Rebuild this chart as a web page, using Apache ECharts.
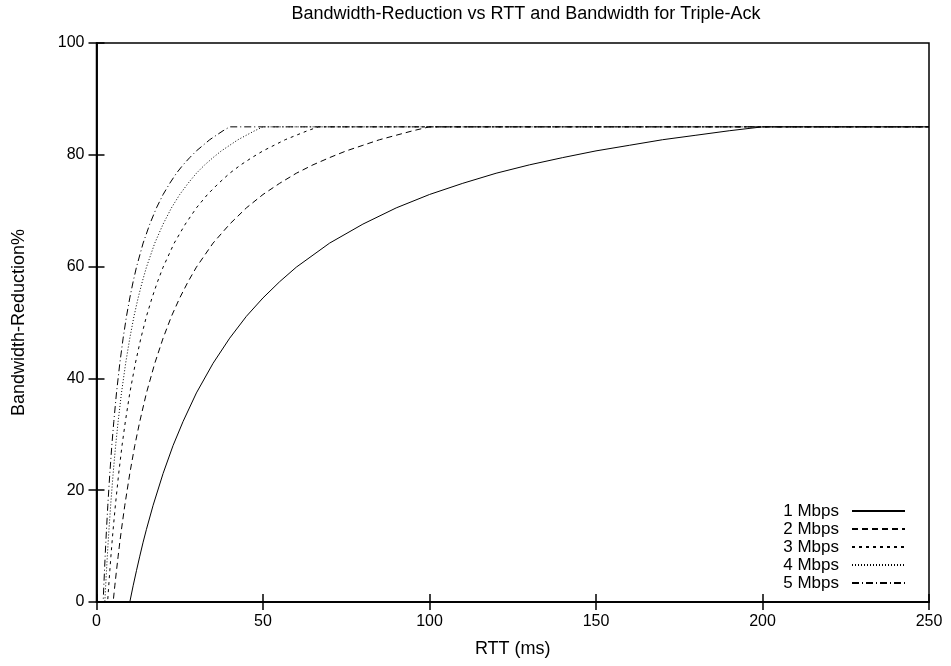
<!DOCTYPE html>
<html>
<head>
<meta charset="utf-8">
<title>Bandwidth-Reduction vs RTT</title>
<script src="https://cdn.jsdelivr.net/npm/echarts@6/dist/echarts.min.js"></script>
<style>
  html, body { margin: 0; padding: 0; background: #fff; }
  #chart { width: 951px; height: 666px; }
</style>
</head>
<body>
<div id="chart"></div>
<script>
// RTT (ms) sample points and bandwidth reduction (%) for each link speed
const rtt1 = [0, 10, 11, 12, 13, 14, 15, 17, 20, 23, 26, 30, 35, 40, 45, 50, 55, 60, 70, 80, 90, 100, 110, 120, 130, 140, 150, 160, 170, 180, 190, 200, 250];
const red1 = [0, 0, 2.9, 5.6, 8.2, 10.7, 13.0, 17.3, 23.0, 28.0, 32.3, 37.4, 42.7, 47.2, 51.1, 54.4, 57.3, 59.9, 64.2, 67.6, 70.5, 72.9, 74.9, 76.7, 78.2, 79.5, 80.7, 81.7, 82.7, 83.5, 84.3, 85, 85];

const rtt2 = [0, 5, 5.5, 6, 6.5, 7, 7.5, 8.5, 10, 11.5, 13, 15, 17.5, 20, 22.5, 25, 27.5, 30, 35, 40, 45, 50, 55, 60, 65, 70, 75, 80, 85, 90, 95, 100, 250];
const red2 = [0, 0, 2.9, 5.6, 8.2, 10.7, 13.0, 17.3, 23.0, 28.0, 32.3, 37.4, 42.7, 47.2, 51.1, 54.4, 57.3, 59.9, 64.2, 67.6, 70.5, 72.9, 74.9, 76.7, 78.2, 79.5, 80.7, 81.7, 82.7, 83.5, 84.3, 85, 85];

const rtt3 = [0, 3.33, 3.67, 4, 4.33, 4.67, 5, 5.67, 6.67, 7.67, 8.67, 10, 11.67, 13.33, 15, 16.67, 18.33, 20, 23.33, 26.67, 30, 33.33, 36.67, 40, 43.33, 46.67, 50, 53.33, 56.67, 60, 63.33, 66.67, 250];
const red3 = [0, 0, 2.9, 5.6, 8.2, 10.7, 13.0, 17.3, 23.0, 28.0, 32.3, 37.4, 42.7, 47.2, 51.1, 54.4, 57.3, 59.9, 64.2, 67.6, 70.5, 72.9, 74.9, 76.7, 78.2, 79.5, 80.7, 81.7, 82.7, 83.5, 84.3, 85, 85];

const rtt4 = [0, 2.5, 2.75, 3, 3.25, 3.5, 3.75, 4.25, 5, 5.75, 6.5, 7.5, 8.75, 10, 11.25, 12.5, 13.75, 15, 17.5, 20, 22.5, 25, 27.5, 30, 32.5, 35, 37.5, 40, 42.5, 45, 47.5, 50, 250];
const red4 = [0, 0, 2.9, 5.6, 8.2, 10.7, 13.0, 17.3, 23.0, 28.0, 32.3, 37.4, 42.7, 47.2, 51.1, 54.4, 57.3, 59.9, 64.2, 67.6, 70.5, 72.9, 74.9, 76.7, 78.2, 79.5, 80.7, 81.7, 82.7, 83.5, 84.3, 85, 85];

const rtt5 = [0, 2, 2.2, 2.4, 2.6, 2.8, 3, 3.4, 4, 4.6, 5.2, 6, 7, 8, 9, 10, 11, 12, 14, 16, 18, 20, 22, 24, 26, 28, 30, 32, 34, 36, 38, 40, 250];
const red5 = [0, 0, 2.9, 5.6, 8.2, 10.7, 13.0, 17.3, 23.0, 28.0, 32.3, 37.4, 42.7, 47.2, 51.1, 54.4, 57.3, 59.9, 64.2, 67.6, 70.5, 72.9, 74.9, 76.7, 78.2, 79.5, 80.7, 81.7, 82.7, 83.5, 84.3, 85, 85];

const seriesNames = ['1 Mbps', '2 Mbps', '3 Mbps', '4 Mbps', '5 Mbps'];
const xTicks = [0, 50, 100, 150, 200, 250];
const yTicks = [0, 20, 40, 60, 80, 100];

const rttSets = [rtt1, rtt2, rtt3, rtt4, rtt5];
const redSets = [red1, red2, red3, red4, red5];
const dashes = ['solid', [6, 4], [3, 4], [1, 2], [7, 3, 1, 3]];

const FONT = '"Liberation Sans", Arial, sans-serif';

const chart = echarts.init(document.getElementById('chart'), null, { renderer: 'canvas' });

function pairs(xs, ys) {
  return xs.map((x, i) => [x, ys[i]]);
}

const tickText = { color: '#000', fontFamily: FONT, fontSize: 16 };
const nameText = { color: '#000', fontFamily: FONT, fontSize: 18 };
const frame = { color: '#000', width: 1.5 };

const option = {
  backgroundColor: '#fff',
  animation: false,
  title: {
    text: 'Bandwidth-Reduction vs RTT and Bandwidth for Triple-Ack',
    left: 521,
    top: 0,
    textAlign: 'center',
    textStyle: { color: '#000', fontFamily: FONT, fontSize: 18, fontWeight: 'normal' }
  },
  grid: {
    left: 96.5, right: 22, top: 43, bottom: 64,
    show: true, borderColor: '#000', borderWidth: 1.5, backgroundColor: 'transparent'
  },
  legend: {
    orient: 'vertical',
    right: 45,
    top: 502,
    padding: 0,
    align: 'right',
    itemWidth: 53,
    itemHeight: 18,
    itemGap: 0,
    itemStyle: { opacity: 0 },
    textStyle: { color: '#000', fontFamily: FONT, fontSize: 17, lineHeight: 18, padding: [0, 8, 0, 0] },
    data: seriesNames
  },
  xAxis: [
    {
      type: 'value', min: 0, max: 250, interval: 50,
      name: 'RTT (ms)', nameLocation: 'middle', nameGap: 38,
      nameTextStyle: nameText,
      axisLine: { show: true, lineStyle: frame },
      axisTick: { show: true, inside: true, length: 8, lineStyle: frame },
      axisLabel: Object.assign({ margin: 12, formatter: v => (xTicks.indexOf(v) >= 0 ? String(v) : '') }, tickText),
      splitLine: { show: false }
    },
    {
      type: 'value', min: 0, max: 250, interval: 50, position: 'top',
      axisLine: { show: true, lineStyle: frame },
      axisTick: { show: true, inside: true, length: 8, lineStyle: frame },
      axisLabel: { show: false },
      splitLine: { show: false }
    }
  ],
  yAxis: [
    {
      type: 'value', min: 0, max: 100, interval: 20,
      name: 'Bandwidth-Reduction%', nameLocation: 'middle', nameGap: 68,
      nameTextStyle: nameText,
      axisLine: { show: true, lineStyle: frame },
      axisTick: { show: true, inside: true, length: 8, lineStyle: frame },
      axisLabel: Object.assign({ margin: 12, formatter: v => (yTicks.indexOf(v) >= 0 ? String(v) : '') }, tickText),
      splitLine: { show: false }
    },
    {
      type: 'value', min: 0, max: 100, interval: 20, position: 'right',
      axisLine: { show: true, lineStyle: frame },
      axisTick: { show: true, inside: true, length: 8, lineStyle: frame },
      axisLabel: { show: false },
      splitLine: { show: false }
    }
  ],
  series: seriesNames.map((name, i) => ({
    name: name,
    type: 'line',
    xAxisIndex: 0,
    yAxisIndex: 0,
    data: pairs(rttSets[i], redSets[i]),
    symbol: 'none',
    smooth: false,
    lineStyle: { color: '#000', width: 1, type: dashes[i] },
    itemStyle: { color: '#000' },
    emphasis: { disabled: true }
  }))
};

chart.setOption(option);
</script>
</body>
</html>
